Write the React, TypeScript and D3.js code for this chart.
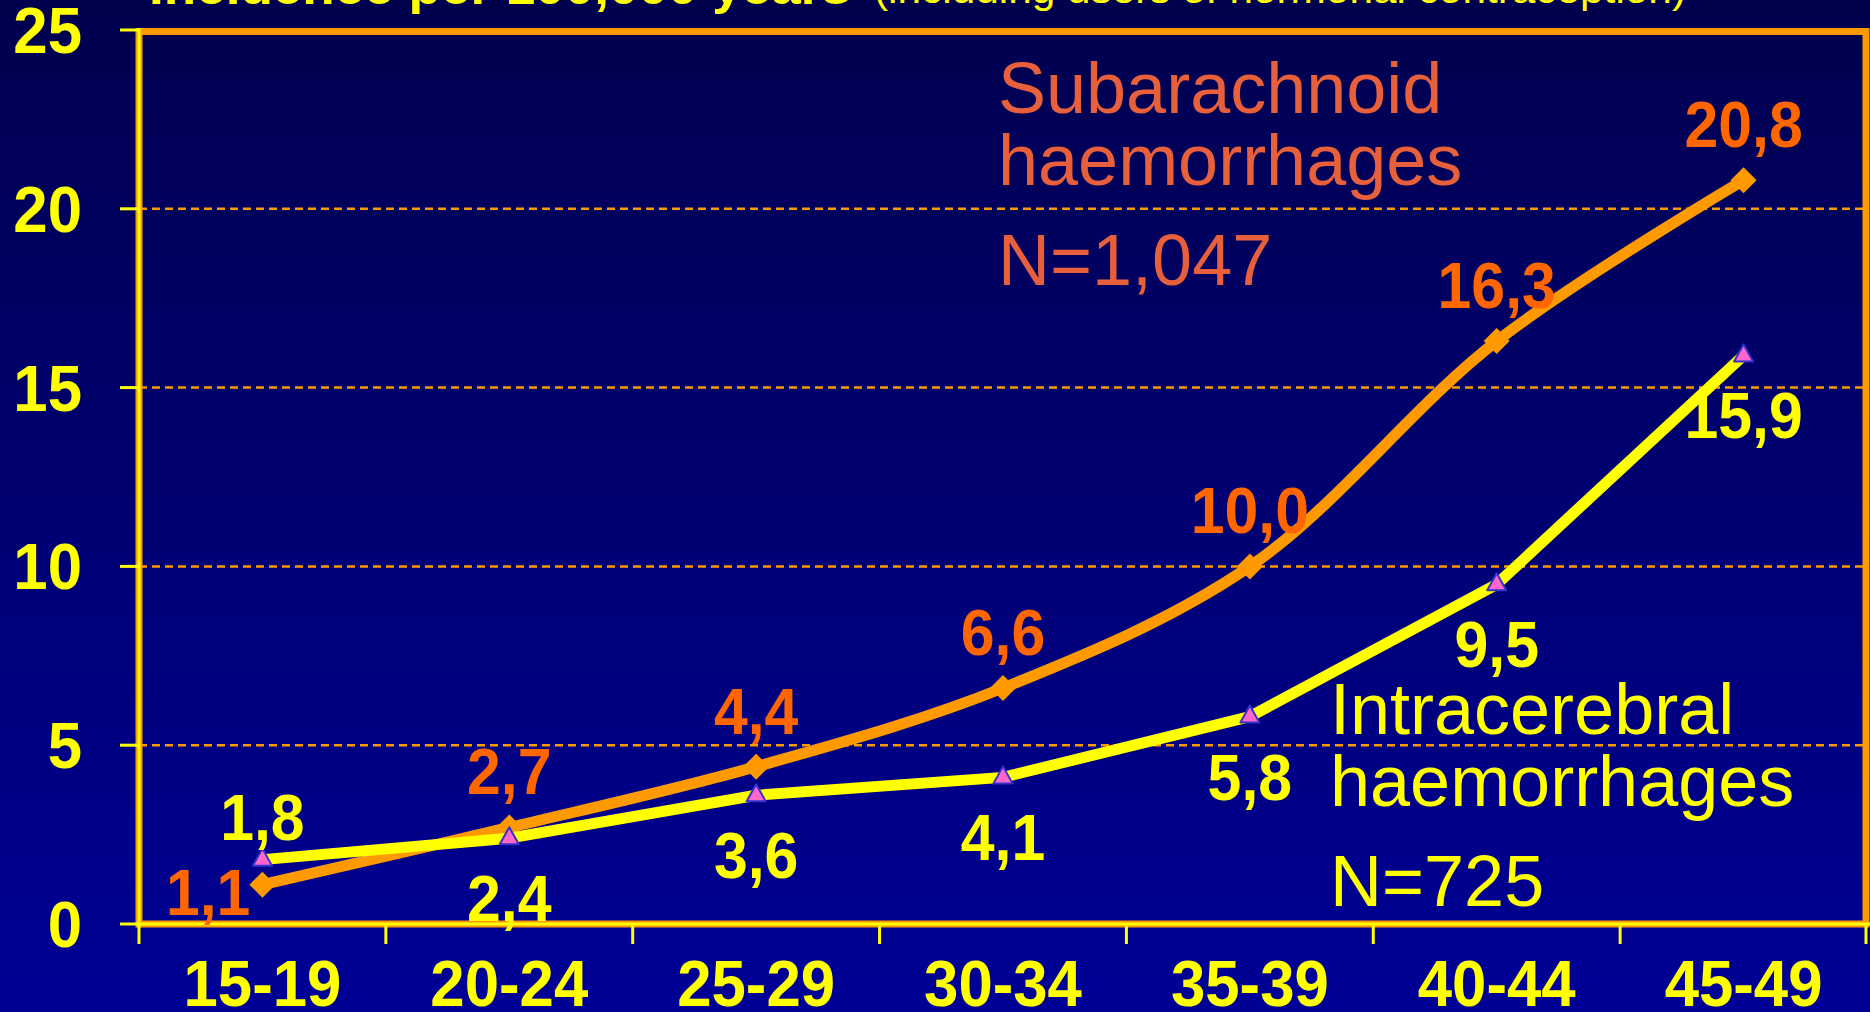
import React from 'react';
import * as d3 from 'd3';

const ageGroups = ['15-19', '20-24', '25-29', '30-34', '35-39', '40-44', '45-49'];
const subarachnoid = [1.1, 2.7, 4.4, 6.6, 10.0, 16.3, 20.8];
const intracerebral = [1.8, 2.4, 3.6, 4.1, 5.8, 9.5, 15.9];
const yTicks = [0, 5, 10, 15, 20, 25];

// where each value label sits relative to its point
const subLabelPos = ['left', 'above', 'above', 'above', 'above', 'above', 'above'];
const intraLabelPos = ['above', 'below', 'below', 'below', 'below', 'below', 'below'];

const W = 1870;
const H = 1012;
const FONT = '"Liberation Sans", Arial, sans-serif';
const ORANGE = '#FF9900';
const ORANGE_TEXT = '#FF6600';
const YELLOW = '#FFFF00';

const fmt = (v: number) => v.toFixed(1).replace('.', ',');

function Label({x, y, anchor, fill, size, weight, children}: any) {
  return (
    <text transform={`translate(${x},${y}) scale(0.95,1)`} textAnchor={anchor} fill={fill}
      fontSize={size} fontWeight={weight} fontFamily={FONT}>{children}</text>
  );
}

export default function App() {
  const x = d3.scaleBand().domain(ageGroups).range([139, 1867]).padding(0);
  const y = d3.scaleLinear().domain([0, 25]).range([924, 30]);
  const cx = (i: number) => (x(ageGroups[i]) as number) + x.bandwidth() / 2;

  const subLine = d3.line<number>().x((d, i) => cx(i)).y(d => y(d)).curve(d3.curveCatmullRom.alpha(0.5));
  const intraLine = d3.line<number>().x((d, i) => cx(i)).y(d => y(d));

  return (
    <svg width={W} height={H} style={{position: 'absolute', left: 0, top: 0, display: 'block'}}>
      <defs>
        <linearGradient id="bg" x1="0" y1="0" x2="0" y2="1">
          <stop offset="0%" stopColor="#00004E" />
          <stop offset="100%" stopColor="#000096" />
        </linearGradient>
      </defs>
      <rect x={0} y={0} width={W} height={H} fill="url(#bg)" />

      {/* title, mostly cut off at the top */}
      <text x={149} y={4} fill={YELLOW} fontFamily={FONT} fontWeight="bold" fontSize={50}
        textLength={702} lengthAdjust="spacingAndGlyphs">Incidence per 100,000 years</text>
      <text x={874} y={3} fill={YELLOW} fontFamily={FONT} fontSize={40}
        textLength={812} lengthAdjust="spacingAndGlyphs">(including users of hormonal contraception)</text>

      {/* gridlines */}
      {yTicks.filter(t => t > 0 && t < 25).map(t => (
        <line key={t} x1={139} x2={1866} y1={y(t)} y2={y(t)} stroke={ORANGE} strokeWidth={2.5} strokeDasharray="8,5" />
      ))}

      {/* frame */}
      <rect x={139} y={31.5} width={1727} height={892.5} fill="none" stroke={ORANGE} strokeWidth={7} />
      <line x1={139} x2={139} y1={28} y2={928} stroke={YELLOW} strokeWidth={3} />
      <line x1={139} x2={1870} y1={924} y2={924} stroke={YELLOW} strokeWidth={3} />

      {/* y axis */}
      {yTicks.map(t => (
        <g key={t}>
          <line x1={120} x2={139} y1={y(t)} y2={y(t)} stroke={YELLOW} strokeWidth={3} />
          <Label x={82} y={y(t) + 23} anchor="end" fill={YELLOW} size={65} weight="bold">{t}</Label>
        </g>
      ))}

      {/* x axis */}
      {ageGroups.map(g => (
        <line key={g} x1={x(g)} x2={x(g)} y1={924} y2={944} stroke={YELLOW} strokeWidth={3} />
      ))}
      <line x1={1866} x2={1866} y1={924} y2={944} stroke={YELLOW} strokeWidth={3} />
      {ageGroups.map((g, i) => (
        <Label key={g} x={cx(i)} y={1006} anchor="middle" fill={YELLOW} size={65} weight="bold">{g}</Label>
      ))}

      {/* series */}
      <path d={subLine(subarachnoid) as string} fill="none" stroke={ORANGE} strokeWidth={11} strokeLinejoin="round" />
      {subarachnoid.map((v, i) => (
        <path key={i} d="M0,-13L13,0L0,13L-13,0Z" transform={`translate(${cx(i)},${y(v)})`} fill={ORANGE} />
      ))}
      <path d={intraLine(intracerebral) as string} fill="none" stroke={YELLOW} strokeWidth={11} strokeLinejoin="round" />
      {intracerebral.map((v, i) => (
        <path key={i} d="M0,-11L9.5,6L-9.5,6Z" transform={`translate(${cx(i)},${y(v)})`}
          fill="#FF66CC" stroke="#3333CC" strokeWidth={2} strokeLinejoin="round" />
      ))}

      {/* value labels */}
      {subarachnoid.map((v, i) => subLabelPos[i] === 'left'
        ? <Label key={i} x={cx(i) - 12} y={y(v) + 30} anchor="end" fill={ORANGE_TEXT} size={64} weight="bold">{fmt(v)}</Label>
        : <Label key={i} x={cx(i)} y={y(v) - 33} anchor="middle" fill={ORANGE_TEXT} size={64} weight="bold">{fmt(v)}</Label>
      )}
      {intracerebral.map((v, i) => (
        <Label key={i} x={cx(i)} y={intraLabelPos[i] === 'above' ? y(v) - 20 : y(v) + 83}
          anchor="middle" fill={YELLOW} size={64} weight="bold">{fmt(v)}</Label>
      ))}

      {/* series names */}
      <g fill="#E85F3C" fontFamily={FONT} fontSize={72}>
        <text x={998} y={113}>Subarachnoid</text>
        <text x={998} y={185}>haemorrhages</text>
        <text x={998} y={285}>N=1,047</text>
      </g>
      <g fill={YELLOW} fontFamily={FONT} fontSize={72}>
        <text x={1330} y={734}>Intracerebral</text>
        <text x={1330} y={806}>haemorrhages</text>
        <text x={1330} y={906}>N=725</text>
      </g>
    </svg>
  );
}
